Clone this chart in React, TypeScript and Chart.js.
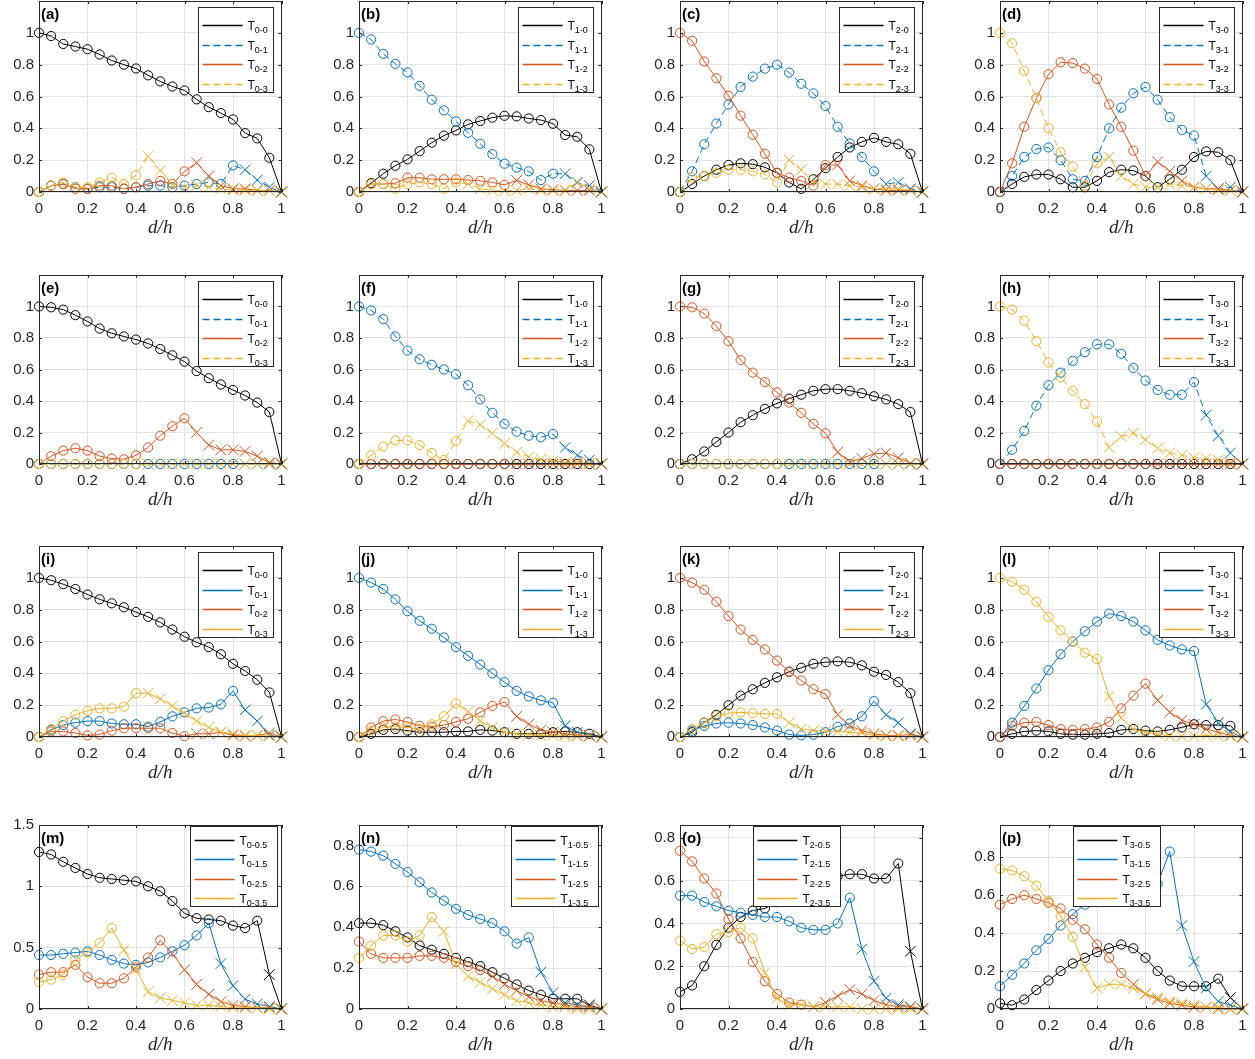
import React, { useEffect, useRef } from "react";
import { Chart, registerables } from "chart.js";

Chart.register(...registerables);

// ---------------- data ----------------
const D_H = [0, 0.05, 0.1, 0.15, 0.2, 0.25, 0.3, 0.35, 0.4, 0.45, 0.5, 0.55, 0.6, 0.65, 0.7, 0.75, 0.8, 0.85, 0.9, 0.95, 1];

const A0 = [1, 0.98, 0.93, 0.914, 0.897, 0.864, 0.826, 0.8, 0.776, 0.733, 0.695, 0.663, 0.638, 0.582, 0.533, 0.496, 0.456, 0.37, 0.337, 0.215, 0];
const A1 = [0, 0.04, 0.05, 0.03, 0.02, 0.03, 0.03, 0.02, 0.03, 0.04, 0.04, 0.03, 0.04, 0.05, 0.06, 0.05, 0.167, 0.14, 0.075, 0.03, 0];
const A2 = [0, 0.04, 0.05, 0.02, 0.02, 0.04, 0.04, 0.02, 0.03, 0.05, 0.07, 0.05, 0.13, 0.184, 0.1, 0.04, 0.02, 0.02, 0.01, 0.01, 0];
const A3 = [0, 0.04, 0.06, 0.03, 0.03, 0.06, 0.09, 0.05, 0.105, 0.224, 0.136, 0.05, 0.03, 0.04, 0.03, 0.02, 0.01, 0.01, 0.01, 0.01, 0];

const B0 = [0, 0.056, 0.115, 0.165, 0.205, 0.257, 0.31, 0.354, 0.387, 0.425, 0.446, 0.467, 0.479, 0.475, 0.462, 0.452, 0.429, 0.358, 0.347, 0.268, 0];
const B1 = [1, 0.958, 0.868, 0.805, 0.751, 0.667, 0.58, 0.513, 0.444, 0.372, 0.303, 0.238, 0.178, 0.153, 0.13, 0.075, 0.115, 0.115, 0.059, 0.04, 0];
const B2 = [0, 0.05, 0.05, 0.055, 0.09, 0.09, 0.08, 0.08, 0.08, 0.075, 0.07, 0.06, 0.045, 0.073, 0.045, 0.02, 0.015, 0.01, 0.01, 0.01, 0];
const B3 = [0, 0.05, 0.05, 0.02, 0.05, 0.06, 0.05, 0.02, 0.06, 0.05, 0.02, 0.01, 0.01, 0.01, 0.02, 0.01, 0.01, 0.01, 0.063, 0.02, 0];

const C0 = [0, 0.05, 0.1, 0.14, 0.17, 0.18, 0.175, 0.155, 0.12, 0.06, 0.02, 0.08, 0.15, 0.22, 0.28, 0.315, 0.34, 0.315, 0.3, 0.24, 0];
const C1 = [0, 0.13, 0.3, 0.43, 0.55, 0.66, 0.725, 0.775, 0.8, 0.75, 0.68, 0.62, 0.54, 0.41, 0.305, 0.22, 0.13, 0.05, 0.06, 0.02, 0];
const C2 = [1, 0.95, 0.82, 0.715, 0.605, 0.48, 0.36, 0.24, 0.12, 0.09, 0.07, 0.04, 0.17, 0.17, 0.07, 0.04, 0.02, 0.01, 0.01, 0.01, 0];
const C3 = [0, 0.09, 0.1, 0.12, 0.14, 0.14, 0.13, 0.11, 0.06, 0.2, 0.14, 0.06, 0.05, 0.05, 0.04, 0.03, 0.02, 0.02, 0.02, 0.01, 0];

const E_D0 = [0, 0.05, 0.095, 0.11, 0.11, 0.08, 0.03, 0.03, 0.07, 0.125, 0.14, 0.135, 0.1, 0.03, 0.08, 0.14, 0.22, 0.255, 0.25, 0.2, 0];
const E_D1 = [0, 0.1, 0.22, 0.27, 0.28, 0.2, 0.08, 0.07, 0.22, 0.4, 0.53, 0.62, 0.66, 0.58, 0.47, 0.39, 0.355, 0.1, 0.02, 0.03, 0];
const E_D2 = [0, 0.18, 0.41, 0.59, 0.74, 0.815, 0.81, 0.775, 0.71, 0.55, 0.41, 0.26, 0.1, 0.19, 0.13, 0.07, 0.03, 0.02, 0.02, 0.01, 0];
const E_D3 = [1, 0.935, 0.76, 0.59, 0.4, 0.25, 0.16, 0.04, 0.18, 0.22, 0.1, 0.05, 0.03, 0.03, 0.05, 0.04, 0.03, 0.02, 0.01, 0.01, 0];

const E0 = [1, 0.995, 0.98, 0.945, 0.905, 0.86, 0.83, 0.81, 0.79, 0.765, 0.73, 0.69, 0.65, 0.59, 0.545, 0.505, 0.47, 0.435, 0.39, 0.33, 0];
const E1 = [0, 0, 0, 0, 0, 0, 0, 0, 0, 0, 0, 0, 0, 0, 0, 0, 0, 0, 0, 0, 0];
const E2 = [0, 0.05, 0.085, 0.1, 0.085, 0.05, 0.035, 0.03, 0.055, 0.105, 0.18, 0.24, 0.29, 0.2, 0.12, 0.09, 0.09, 0.08, 0.05, 0.01, 0];
const E3 = [0, 0, 0, 0, 0, 0, 0, 0, 0, 0, 0, 0, 0, 0, 0, 0, 0, 0, 0, 0, 0];

const F0 = [0, 0, 0, 0, 0, 0, 0, 0, 0, 0, 0, 0, 0, 0, 0, 0, 0, 0, 0, 0, 0];
const F1 = [1, 0.975, 0.92, 0.81, 0.72, 0.665, 0.63, 0.6, 0.57, 0.5, 0.41, 0.325, 0.255, 0.205, 0.18, 0.17, 0.19, 0.105, 0.055, 0.025, 0];
const F2 = [0, 0, 0, 0, 0, 0, 0, 0, 0, 0, 0, 0, 0, 0, 0, 0, 0, 0, 0, 0, 0];
const F3 = [0, 0.055, 0.11, 0.15, 0.15, 0.12, 0.07, 0.025, 0.145, 0.275, 0.25, 0.195, 0.13, 0.075, 0.045, 0.03, 0.02, 0.01, 0.01, 0.005, 0];

const G0 = [0, 0.03, 0.08, 0.14, 0.2, 0.265, 0.31, 0.35, 0.385, 0.415, 0.44, 0.465, 0.475, 0.475, 0.465, 0.45, 0.43, 0.41, 0.38, 0.33, 0];
const G1 = [0, 0, 0, 0, 0, 0, 0, 0, 0, 0, 0, 0, 0, 0, 0, 0, 0, 0, 0, 0, 0];
const G2 = [1, 0.995, 0.955, 0.875, 0.78, 0.66, 0.58, 0.52, 0.455, 0.39, 0.325, 0.255, 0.195, 0.075, 0.015, 0.035, 0.065, 0.07, 0.04, 0.005, 0];
const G3 = [0, 0, 0, 0, 0, 0, 0, 0, 0, 0, 0, 0, 0, 0, 0, 0, 0, 0, 0, 0, 0];

const H0 = [0, 0, 0, 0, 0, 0, 0, 0, 0, 0, 0, 0, 0, 0, 0, 0, 0, 0, 0, 0, 0];
const H1 = [0, 0.09, 0.21, 0.37, 0.5, 0.58, 0.655, 0.71, 0.76, 0.76, 0.7, 0.61, 0.53, 0.47, 0.44, 0.44, 0.52, 0.31, 0.18, 0.07, 0];
const H2 = [0, 0, 0, 0, 0, 0, 0, 0, 0, 0, 0, 0, 0, 0, 0, 0, 0, 0, 0, 0, 0];
const H3 = [1, 0.98, 0.91, 0.78, 0.645, 0.55, 0.465, 0.38, 0.27, 0.105, 0.175, 0.195, 0.155, 0.1, 0.07, 0.055, 0.04, 0.035, 0.025, 0.01, 0];

const I0 = [1, 0.985, 0.96, 0.93, 0.895, 0.865, 0.84, 0.815, 0.785, 0.755, 0.72, 0.675, 0.63, 0.595, 0.565, 0.52, 0.46, 0.415, 0.36, 0.28, 0];
const I1 = [0, 0.045, 0.075, 0.09, 0.1, 0.1, 0.085, 0.08, 0.08, 0.065, 0.095, 0.13, 0.155, 0.18, 0.185, 0.205, 0.29, 0.17, 0.1, 0.01, 0];
const I2 = [0, 0.035, 0.035, 0.025, 0.01, 0.015, 0.04, 0.055, 0.055, 0.055, 0.055, 0.025, 0.005, 0.02, 0.02, 0.03, 0.01, 0.005, 0.01, 0.025, 0];
const I3 = [0, 0.05, 0.1, 0.14, 0.165, 0.18, 0.18, 0.19, 0.275, 0.275, 0.24, 0.195, 0.15, 0.1, 0.06, 0.03, 0.02, 0.01, 0.01, 0.005, 0];

const J0 = [0, 0.02, 0.045, 0.05, 0.04, 0.03, 0.03, 0.03, 0.035, 0.035, 0.045, 0.04, 0.03, 0.02, 0.02, 0.02, 0.03, 0.035, 0.03, 0.02, 0];
const J1 = [1, 0.97, 0.93, 0.865, 0.79, 0.73, 0.68, 0.625, 0.565, 0.51, 0.455, 0.4, 0.345, 0.29, 0.255, 0.23, 0.215, 0.07, 0.03, 0.01, 0];
const J2 = [0, 0.06, 0.1, 0.11, 0.095, 0.07, 0.065, 0.075, 0.095, 0.115, 0.155, 0.195, 0.22, 0.13, 0.08, 0.045, 0.03, 0.02, 0.01, 0.005, 0];
const J3 = [0, 0.04, 0.06, 0.065, 0.06, 0.05, 0.08, 0.13, 0.21, 0.16, 0.1, 0.06, 0.03, 0.02, 0.015, 0.01, 0.01, 0.005, 0.005, 0.005, 0];

const K0 = [0, 0.03, 0.09, 0.14, 0.2, 0.26, 0.3, 0.34, 0.375, 0.41, 0.435, 0.46, 0.47, 0.475, 0.47, 0.45, 0.41, 0.39, 0.345, 0.275, 0];
const K1 = [0, 0.04, 0.07, 0.085, 0.09, 0.085, 0.075, 0.06, 0.04, 0.015, 0.01, 0.015, 0.03, 0.065, 0.085, 0.13, 0.225, 0.14, 0.09, 0.02, 0];
const K2 = [1, 0.97, 0.925, 0.85, 0.76, 0.675, 0.61, 0.55, 0.48, 0.41, 0.355, 0.3, 0.27, 0.14, 0.07, 0.04, 0.02, 0.01, 0.01, 0.015, 0];
const K3 = [0, 0.05, 0.09, 0.13, 0.15, 0.155, 0.15, 0.145, 0.145, 0.09, 0.05, 0.04, 0.035, 0.035, 0.03, 0.025, 0.01, 0.005, 0.005, 0.005, 0];

const L0 = [0, 0.02, 0.035, 0.04, 0.035, 0.02, 0.015, 0.015, 0.02, 0.025, 0.045, 0.05, 0.04, 0.035, 0.045, 0.06, 0.08, 0.075, 0.075, 0.07, 0];
const L1 = [0, 0.09, 0.195, 0.305, 0.42, 0.52, 0.6, 0.665, 0.725, 0.775, 0.76, 0.725, 0.67, 0.61, 0.575, 0.55, 0.54, 0.205, 0.09, 0.03, 0];
const L2 = [0, 0.07, 0.09, 0.095, 0.075, 0.05, 0.045, 0.05, 0.06, 0.095, 0.18, 0.26, 0.335, 0.23, 0.155, 0.105, 0.08, 0.05, 0.03, 0.01, 0];
const L3 = [1, 0.975, 0.925, 0.85, 0.755, 0.67, 0.6, 0.53, 0.49, 0.255, 0.12, 0.05, 0.03, 0.02, 0.005, 0.005, 0.005, 0.01, 0.005, 0.005, 0];

const M0 = [1.28, 1.26, 1.2, 1.15, 1.1, 1.07, 1.06, 1.05, 1.04, 1.0, 0.96, 0.88, 0.78, 0.74, 0.73, 0.72, 0.68, 0.66, 0.72, 0.28, 0];
const M1 = [0.44, 0.44, 0.45, 0.46, 0.47, 0.44, 0.4, 0.37, 0.36, 0.38, 0.42, 0.47, 0.52, 0.6, 0.7, 0.37, 0.19, 0.08, 0.04, 0.02, 0];
const M2 = [0.28, 0.3, 0.3, 0.36, 0.26, 0.21, 0.21, 0.25, 0.34, 0.42, 0.56, 0.45, 0.32, 0.2, 0.12, 0.06, 0.03, 0.02, 0.01, 0.01, 0];
const M3 = [0.22, 0.24, 0.28, 0.4, 0.46, 0.54, 0.66, 0.48, 0.32, 0.14, 0.09, 0.07, 0.05, 0.03, 0.03, 0.02, 0.01, 0.01, 0.01, 0, 0];

const N0 = [0.42, 0.42, 0.41, 0.38, 0.35, 0.31, 0.29, 0.27, 0.25, 0.23, 0.21, 0.18, 0.15, 0.12, 0.09, 0.07, 0.05, 0.05, 0.05, 0.02, 0];
const N1 = [0.78, 0.77, 0.75, 0.71, 0.67, 0.62, 0.57, 0.53, 0.49, 0.46, 0.44, 0.42, 0.38, 0.32, 0.35, 0.18, 0.08, 0.03, 0.02, 0.01, 0];
const N2 = [0.33, 0.27, 0.25, 0.25, 0.25, 0.26, 0.26, 0.25, 0.23, 0.21, 0.19, 0.16, 0.12, 0.09, 0.06, 0.04, 0.03, 0.02, 0.01, 0.01, 0];
const N3 = [0.25, 0.31, 0.36, 0.36, 0.33, 0.36, 0.45, 0.38, 0.22, 0.16, 0.13, 0.1, 0.07, 0.04, 0.03, 0.02, 0.01, 0.01, 0, 0, 0];

const O0 = [0.08, 0.11, 0.2, 0.3, 0.38, 0.43, 0.46, 0.47, 0.5, 0.52, 0.55, 0.58, 0.61, 0.62, 0.63, 0.63, 0.61, 0.61, 0.68, 0.27, 0];
const O1 = [0.53, 0.53, 0.5, 0.48, 0.46, 0.45, 0.44, 0.43, 0.43, 0.41, 0.38, 0.37, 0.37, 0.4, 0.52, 0.28, 0.13, 0.05, 0.02, 0.01, 0];
const O2 = [0.74, 0.69, 0.61, 0.54, 0.42, 0.33, 0.22, 0.13, 0.07, 0.03, 0.02, 0.01, 0.03, 0.06, 0.09, 0.07, 0.04, 0.02, 0.01, 0.01, 0];
const O3 = [0.32, 0.28, 0.29, 0.35, 0.36, 0.38, 0.33, 0.17, 0.05, 0.02, 0.02, 0.01, 0.01, 0.01, 0.01, 0, 0, 0, 0, 0, 0];

const P0 = [0.03, 0.02, 0.05, 0.1, 0.15, 0.2, 0.24, 0.27, 0.3, 0.32, 0.34, 0.32, 0.27, 0.2, 0.15, 0.12, 0.12, 0.12, 0.16, 0.06, 0];
const P1 = [0.12, 0.18, 0.24, 0.31, 0.37, 0.44, 0.5, 0.55, 0.62, 0.66, 0.69, 0.7, 0.68, 0.66, 0.83, 0.44, 0.25, 0.11, 0.04, 0.02, 0];
const P2 = [0.55, 0.58, 0.6, 0.58, 0.56, 0.53, 0.47, 0.42, 0.34, 0.27, 0.19, 0.13, 0.08, 0.05, 0.03, 0.02, 0.01, 0.01, 0, 0, 0];
const P3 = [0.74, 0.73, 0.7, 0.65, 0.57, 0.49, 0.38, 0.22, 0.11, 0.13, 0.13, 0.11, 0.08, 0.06, 0.04, 0.03, 0.02, 0.01, 0.01, 0, 0];

// legend subscripts
const SUB_0 = ["0-0", "0-1", "0-2", "0-3"];
const SUB_1 = ["1-0", "1-1", "1-2", "1-3"];
const SUB_2 = ["2-0", "2-1", "2-2", "2-3"];
const SUB_3 = ["3-0", "3-1", "3-2", "3-3"];
const SUB_0H = ["0-0.5", "0-1.5", "0-2.5", "0-3.5"];
const SUB_1H = ["1-0.5", "1-1.5", "1-2.5", "1-3.5"];
const SUB_2H = ["2-0.5", "2-1.5", "2-2.5", "2-3.5"];
const SUB_3H = ["3-0.5", "3-1.5", "3-2.5", "3-3.5"];

// last x index drawn with a circle (afterwards crosses)
const LAST_CIRCLE_INT = [19, 16, 12, 8];
const LAST_CIRCLE_HALF = [18, 14, 10, 6];

const Y_TICKS_UNIT = [0, 0.2, 0.4, 0.6, 0.8, 1];
const Y_TICKS_M = [0, 0.5, 1, 1.5];
const Y_TICKS_LOW = [0, 0.2, 0.4, 0.6, 0.8];
const X_TICKS = [0, 0.2, 0.4, 0.6, 0.8, 1];

// ---------------- style / layout ----------------
const COLORS = ["#000000", "#0072BD", "#D95319", "#EDB120"];
const DASH_MIXED = [false, true, false, true];
const DASH_NONE = [false, false, false, false];

const COL_LEFT = [39, 359, 680, 1000];
const ROW_TOP = [1, 275, 546, 825];
const ROW_H = [191, 189, 191, 184];
const PLOT_W = 243;
const AX_W = 39;
const AX_H = 52;
const PAD_T = 10;
const PAD_R = 8;
const AXIS_COLOR = "#262626";
const GRID_COLOR = "#e3e3e3";

type Leg = { x: number; y: number; w: number; h: number; first: number; step: number };
const LEG_STD: Leg = { x: 159, y: 6, w: 75, h: 85, first: 17.5, step: 19.5 };

type PanelDef = {
  tag: string;
  data: number[][];
  subs: string[];
  dashed: boolean[];
  last: number[];
  yMax: number;
  yTicks: number[];
  row: number;
  col: number;
  leg: Leg;
};

const PANELS: PanelDef[] = [
  { tag: "(a)", data: [A0, A1, A2, A3], subs: SUB_0, dashed: DASH_MIXED, last: LAST_CIRCLE_INT, yMax: 1.2, yTicks: Y_TICKS_UNIT, row: 0, col: 0, leg: LEG_STD },
  { tag: "(b)", data: [B0, B1, B2, B3], subs: SUB_1, dashed: DASH_MIXED, last: LAST_CIRCLE_INT, yMax: 1.2, yTicks: Y_TICKS_UNIT, row: 0, col: 1, leg: LEG_STD },
  { tag: "(c)", data: [C0, C1, C2, C3], subs: SUB_2, dashed: DASH_MIXED, last: LAST_CIRCLE_INT, yMax: 1.2, yTicks: Y_TICKS_UNIT, row: 0, col: 2, leg: LEG_STD },
  { tag: "(d)", data: [E_D0, E_D1, E_D2, E_D3], subs: SUB_3, dashed: DASH_MIXED, last: LAST_CIRCLE_INT, yMax: 1.2, yTicks: Y_TICKS_UNIT, row: 0, col: 3, leg: LEG_STD },
  { tag: "(e)", data: [E0, E1, E2, E3], subs: SUB_0, dashed: DASH_MIXED, last: LAST_CIRCLE_INT, yMax: 1.2, yTicks: Y_TICKS_UNIT, row: 1, col: 0, leg: LEG_STD },
  { tag: "(f)", data: [F0, F1, F2, F3], subs: SUB_1, dashed: DASH_MIXED, last: LAST_CIRCLE_INT, yMax: 1.2, yTicks: Y_TICKS_UNIT, row: 1, col: 1, leg: LEG_STD },
  { tag: "(g)", data: [G0, G1, G2, G3], subs: SUB_2, dashed: DASH_MIXED, last: LAST_CIRCLE_INT, yMax: 1.2, yTicks: Y_TICKS_UNIT, row: 1, col: 2, leg: LEG_STD },
  { tag: "(h)", data: [H0, H1, H2, H3], subs: SUB_3, dashed: DASH_MIXED, last: LAST_CIRCLE_INT, yMax: 1.2, yTicks: Y_TICKS_UNIT, row: 1, col: 3, leg: LEG_STD },
  { tag: "(i)", data: [I0, I1, I2, I3], subs: SUB_0, dashed: DASH_NONE, last: LAST_CIRCLE_INT, yMax: 1.2, yTicks: Y_TICKS_UNIT, row: 2, col: 0, leg: LEG_STD },
  { tag: "(j)", data: [J0, J1, J2, J3], subs: SUB_1, dashed: DASH_NONE, last: LAST_CIRCLE_INT, yMax: 1.2, yTicks: Y_TICKS_UNIT, row: 2, col: 1, leg: LEG_STD },
  { tag: "(k)", data: [K0, K1, K2, K3], subs: SUB_2, dashed: DASH_NONE, last: LAST_CIRCLE_INT, yMax: 1.2, yTicks: Y_TICKS_UNIT, row: 2, col: 2, leg: LEG_STD },
  { tag: "(l)", data: [L0, L1, L2, L3], subs: SUB_3, dashed: DASH_NONE, last: LAST_CIRCLE_INT, yMax: 1.2, yTicks: Y_TICKS_UNIT, row: 2, col: 3, leg: LEG_STD },
  { tag: "(m)", data: [M0, M1, M2, M3], subs: SUB_0H, dashed: DASH_NONE, last: LAST_CIRCLE_HALF, yMax: 1.5, yTicks: Y_TICKS_M, row: 3, col: 0, leg: { x: 151, y: 1, w: 87, h: 80, first: 13, step: 19.5 } },
  { tag: "(n)", data: [N0, N1, N2, N3], subs: SUB_1H, dashed: DASH_NONE, last: LAST_CIRCLE_HALF, yMax: 0.9, yTicks: Y_TICKS_LOW, row: 3, col: 1, leg: { x: 152, y: 1, w: 87, h: 80, first: 13, step: 19.5 } },
  { tag: "(o)", data: [O0, O1, O2, O3], subs: SUB_2H, dashed: DASH_NONE, last: LAST_CIRCLE_HALF, yMax: 0.86, yTicks: Y_TICKS_LOW, row: 3, col: 2, leg: { x: 73, y: 1, w: 87, h: 80, first: 13, step: 19.5 } },
  { tag: "(p)", data: [P0, P1, P2, P3], subs: SUB_3H, dashed: DASH_NONE, last: LAST_CIRCLE_HALF, yMax: 0.97, yTicks: Y_TICKS_LOW, row: 3, col: 3, leg: { x: 73, y: 1, w: 87, h: 80, first: 13, step: 19.5 } },
];

const fmt = (v: number) => String(Math.round(v * 100) / 100);

const framePlugin = {
  id: "matlabFrame",
  afterDatasetsDraw(chart: any, _args: any, opts: any) {
    const { ctx, chartArea, scales } = chart;
    const { left, right, top, bottom } = chartArea;
    const xs = scales.x;
    const ys = scales.y;
    ctx.save();
    ctx.setLineDash([]);
    ctx.strokeStyle = AXIS_COLOR;
    ctx.lineWidth = 1;
    // inward tick marks on all four sides
    ctx.beginPath();
    for (const v of opts.xTicks as number[]) {
      const px = Math.round(xs.getPixelForValue(v)) + 0.5;
      ctx.moveTo(px, bottom);
      ctx.lineTo(px, bottom - 3);
      ctx.moveTo(px, top);
      ctx.lineTo(px, top + 3);
    }
    for (const v of opts.yTicks as number[]) {
      const py = Math.round(ys.getPixelForValue(v)) + 0.5;
      ctx.moveTo(left, py);
      ctx.lineTo(left + 3, py);
      ctx.moveTo(right, py);
      ctx.lineTo(right - 3, py);
    }
    ctx.stroke();
    // box
    ctx.strokeRect(Math.round(left) + 0.5, Math.round(top) + 0.5, Math.round(right - left) - 1, Math.round(bottom - top) - 1);

    // panel tag
    ctx.fillStyle = "#000";
    ctx.font = 'bold 15px "Liberation Sans", Arial, sans-serif';
    ctx.textAlign = "left";
    ctx.textBaseline = "alphabetic";
    ctx.fillText(opts.tag, left + 2, top + 18);

    // legend
    const leg: Leg = opts.leg;
    const bx = Math.round(left + leg.x) + 0.5;
    const by = Math.round(top + leg.y) + 0.5;
    ctx.fillStyle = "#ffffff";
    ctx.fillRect(bx, by, leg.w, leg.h);
    ctx.strokeStyle = AXIS_COLOR;
    ctx.lineWidth = 1;
    ctx.strokeRect(bx, by, leg.w, leg.h);
    (opts.subs as string[]).forEach((s, i) => {
      const cy = Math.round(by + leg.first + i * leg.step) + 0.5;
      ctx.strokeStyle = COLORS[i];
      ctx.lineWidth = 1.5;
      ctx.setLineDash(opts.dashed[i] ? [7, 4] : []);
      ctx.beginPath();
      ctx.moveTo(bx + 4, cy);
      ctx.lineTo(bx + 44, cy);
      ctx.stroke();
      ctx.setLineDash([]);
      ctx.fillStyle = "#000";
      ctx.font = '12px "Liberation Sans", Arial, sans-serif';
      ctx.fillText("T", bx + 49, cy + 4);
      const tw = ctx.measureText("T").width;
      ctx.font = '9px "Liberation Sans", Arial, sans-serif';
      ctx.fillText(s, bx + 49 + tw, cy + 7);
    });
    ctx.restore();
  },
};

function PanelChart({ p }: { p: PanelDef }) {
  const ref = useRef<HTMLCanvasElement | null>(null);
  const w = AX_W + PLOT_W + PAD_R;
  const h = PAD_T + ROW_H[p.row] + AX_H;
  useEffect(() => {
    const canvas = ref.current;
    if (!canvas) return;
    const datasets = p.data.map((vals, si) => ({
      label: "T" + p.subs[si],
      data: vals.map((v, i) => ({ x: D_H[i], y: v })),
      borderColor: COLORS[si],
      backgroundColor: "rgba(0,0,0,0)",
      borderWidth: 1,
      borderDash: p.dashed[si] ? [7, 4] : [],
      tension: 0,
      clip: false as any,
      order: 3 - si,
      pointStyle: vals.map((_, i) => (i <= p.last[si] ? "circle" : "crossRot")),
      pointRadius: vals.map((_, i) => (i <= p.last[si] ? 4.6 : 7.5)),
      pointBorderColor: COLORS[si],
      pointBackgroundColor: "rgba(0,0,0,0)",
      pointBorderWidth: 1,
      pointHoverRadius: 0,
    }));
    const tickFont = { family: '"Liberation Sans", Arial, sans-serif', size: 15 };
    const chart = new Chart(canvas, {
      type: "line",
      data: { datasets },
      plugins: [framePlugin],
      options: {
        animation: false,
        responsive: false,
        events: [],
        layout: { padding: { top: PAD_T, right: PAD_R, left: 0, bottom: 0 } },
        plugins: {
          legend: { display: false },
          tooltip: { enabled: false },
          matlabFrame: { tag: p.tag, subs: p.subs, dashed: p.dashed, leg: p.leg, xTicks: X_TICKS, yTicks: p.yTicks },
        } as any,
        scales: {
          x: {
            type: "linear",
            min: 0,
            max: 1,
            afterBuildTicks: (s: any) => {
              s.ticks = X_TICKS.map((v) => ({ value: v }));
            },
            ticks: { font: tickFont, color: AXIS_COLOR, padding: 8, maxRotation: 0, autoSkip: false, callback: (v: any) => fmt(Number(v)) },
            grid: { color: GRID_COLOR, drawTicks: false, lineWidth: 1 },
            border: { display: false },
            title: {
              display: true,
              text: "d/h",
              color: AXIS_COLOR,
              font: { family: '"Liberation Serif", "Times New Roman", serif', style: "italic", size: 19 },
              padding: { top: 0, bottom: 5 },
            },
            afterFit: (s: any) => {
              s.height = AX_H;
              s.paddingLeft = 0;
              s.paddingRight = 0;
            },
          },
          y: {
            type: "linear",
            min: 0,
            max: p.yMax,
            afterBuildTicks: (s: any) => {
              s.ticks = p.yTicks.map((v) => ({ value: v }));
            },
            ticks: { font: tickFont, color: AXIS_COLOR, padding: 5, autoSkip: false, callback: (v: any) => fmt(Number(v)) },
            grid: { color: GRID_COLOR, drawTicks: false, lineWidth: 1 },
            border: { display: false },
            afterFit: (s: any) => {
              s.width = AX_W;
              s.paddingTop = 0;
              s.paddingBottom = 0;
            },
          },
        },
      } as any,
    });
    return () => chart.destroy();
  }, [p]);
  return (
    <canvas
      ref={ref}
      width={w}
      height={h}
      style={{ position: "absolute", left: COL_LEFT[p.col] - AX_W, top: ROW_TOP[p.row] - PAD_T, width: w, height: h }}
    />
  );
}

export default function App() {
  return (
    <div style={{ position: "absolute", left: 0, top: 0, width: 1255, height: 1059, background: "#ffffff", overflow: "hidden" }}>
      {PANELS.map((p) => (
        <PanelChart key={p.tag} p={p} />
      ))}
    </div>
  );
}
